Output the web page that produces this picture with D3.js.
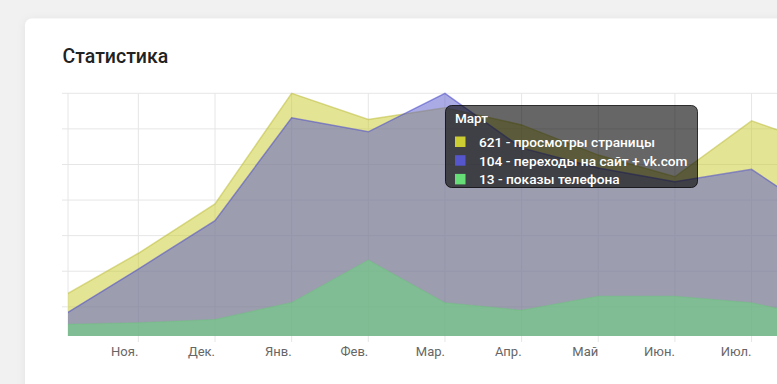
<!DOCTYPE html>
<html>
<head>
<meta charset="utf-8">
<script src="https://cdn.jsdelivr.net/npm/d3@7"></script>
<style>
  html, body { margin: 0; padding: 0; background: #f1f1f1; overflow: hidden; }
  body { width: 777px; height: 384px; }
  svg { display: block; font-family: Roboto, "Noto Sans", sans-serif; }
</style>
</head>
<body>
<svg id="chart" width="777" height="384"></svg>
<script>
// ---- data ----
const categories = ["Окт.", "Ноя.", "Дек.", "Янв.", "Фев.", "Мар.", "Апр.", "Май", "Июн.", "Июл.", "Авг."];
const tickLabels = ["", "Ноя.", "Дек.", "Янв.", "Фев.", "Мар.", "Апр.", "Май", "Июн.", "Июл.", ""];
const monthNames = ["Октябрь", "Ноябрь", "Декабрь", "Январь", "Февраль", "Март", "Апрель", "Май", "Июнь", "Июль", "Август"];
const seriesNames = ["просмотры страницы", "переходы на сайт + vk.com", "показы телефона"];
const pageViews  = [106, 225, 359, 660, 589, 621, 574, 492, 433, 585, 513];
const siteClicks = [8.5, 28.7, 49.4, 93.5, 87.5, 104, 80.6, 72, 66.1, 71.4, 49.5];
const phoneShows = [4.5, 5.2, 6.5, 13.1, 29.7, 13, 10.1, 15.6, 15.6, 13, 6.6];
const seriesMax = [660, 104, 95];
const activeIndex = 5;

// ---- layout ----
const svg = d3.select("#chart");
const plot = { left: 68, top: 93.3, bottom: 336, right: 860 };

const defs = svg.append("defs");
const shadow = defs.append("filter").attr("id", "shadow").attr("x", "-10%").attr("y", "-10%").attr("width", "130%").attr("height", "130%");
shadow.append("feDropShadow").attr("dx", 0).attr("dy", 1).attr("stdDeviation", 4).attr("flood-color", "#000").attr("flood-opacity", 0.06);

// card
svg.append("rect").attr("x", 25).attr("y", 18.5).attr("width", 900).attr("height", 420)
  .attr("rx", 7).attr("fill", "#fff").attr("filter", "url(#shadow)");

svg.append("text").attr("x", 62.5).attr("y", 63).attr("font-size", 19.5).attr("font-weight", 500)
  .attr("fill", "#222").text("Статистика");

// scales
const x = d3.scalePoint().domain(categories).range([61.7, 61.7 + 76.65 * (categories.length - 1)]);
const yScales = seriesMax.map(m => d3.scaleLinear().domain([0, m]).range([plot.bottom, plot.top]));
const gridScale = d3.scaleLinear().domain([-0.82, 6]).range([plot.bottom, plot.top]);

// grid
const g = svg.append("g");
g.selectAll("line.h").data(gridScale.ticks(6)).join("line")
  .attr("x1", plot.left - 6).attr("x2", plot.right)
  .attr("y1", d => gridScale(d)).attr("y2", d => gridScale(d))
  .attr("stroke", "#e6e6e6").attr("stroke-width", 1);
g.selectAll("line.v").data(categories.slice(1)).join("line")
  .attr("x1", d => x(d)).attr("x2", d => x(d))
  .attr("y1", plot.top).attr("y2", plot.bottom + 6)
  .attr("stroke", "#e6e6e6").attr("stroke-width", 1);
g.append("line").attr("x1", plot.left).attr("x2", plot.left).attr("y1", plot.top).attr("y2", plot.bottom)
  .attr("stroke", "#e6e6e6");

// areas
defs.append("clipPath").attr("id", "clip").append("rect")
  .attr("x", plot.left).attr("y", plot.top - 2).attr("width", plot.right - plot.left).attr("height", plot.bottom - plot.top + 2);

const series = [
  { values: pageViews,  fill: "rgba(204,204,51,0.52)", stroke: "rgba(190,190,60,0.55)" },
  { values: siteClicks, fill: "rgba(85,85,204,0.5)",   stroke: "rgba(85,85,204,0.6)" },
  { values: phoneShows, fill: "rgba(102,221,119,0.5)", stroke: "rgba(102,200,119,0.3)" }
];
const areasG = svg.append("g").attr("clip-path", "url(#clip)");
series.forEach((s, si) => {
  const y = yScales[si];
  const area = d3.area().x((d, i) => x(categories[i])).y0(plot.bottom).y1(d => y(d));
  const line = d3.line().x((d, i) => x(categories[i])).y(d => y(d));
  areasG.append("path").datum(s.values).attr("d", area).attr("fill", s.fill);
  areasG.append("path").datum(s.values).attr("d", line).attr("fill", "none")
    .attr("stroke", s.stroke).attr("stroke-width", 1.5);
});

// x axis labels
svg.append("g").selectAll("text").data(categories.filter((d, i) => tickLabels[i] !== "")).join("text")
  .attr("x", d => x(d)).attr("y", 356)
  .attr("text-anchor", "end").attr("font-size", 13).attr("fill", "#666")
  .text(d => tickLabels[categories.indexOf(d)]);

// tooltip
const tip = svg.append("g").attr("transform", "translate(445.5,105.5)");
tip.append("rect").attr("width", 252).attr("height", 82).attr("rx", 6)
  .attr("fill", "rgba(0,0,0,0.6)").attr("stroke", "rgba(0,0,0,0.75)").attr("stroke-width", 1);
tip.append("text").attr("x", 9.5).attr("y", 17).attr("font-size", 13.5).attr("font-weight", 500)
  .attr("fill", "#fff").text(monthNames[activeIndex]);
const tipVals = [pageViews[activeIndex], siteClicks[activeIndex], phoneShows[activeIndex]];
const legendColors = ["#cccc33", "#5555cc", "#66dd77"];
seriesNames.forEach((name, i) => {
  const ry = 31 + i * 18.7;
  tip.append("rect").attr("x", 9.5).attr("y", ry).attr("width", 10.5).attr("height", 10.5)
    .attr("fill", legendColors[i]);
  tip.append("text").attr("x", 33.5).attr("y", ry + 10.5).attr("font-size", 13.7).attr("font-weight", 500)
    .attr("fill", "#fff").text(tipVals[i] + " - " + name);
});
</script>
</body>
</html>
